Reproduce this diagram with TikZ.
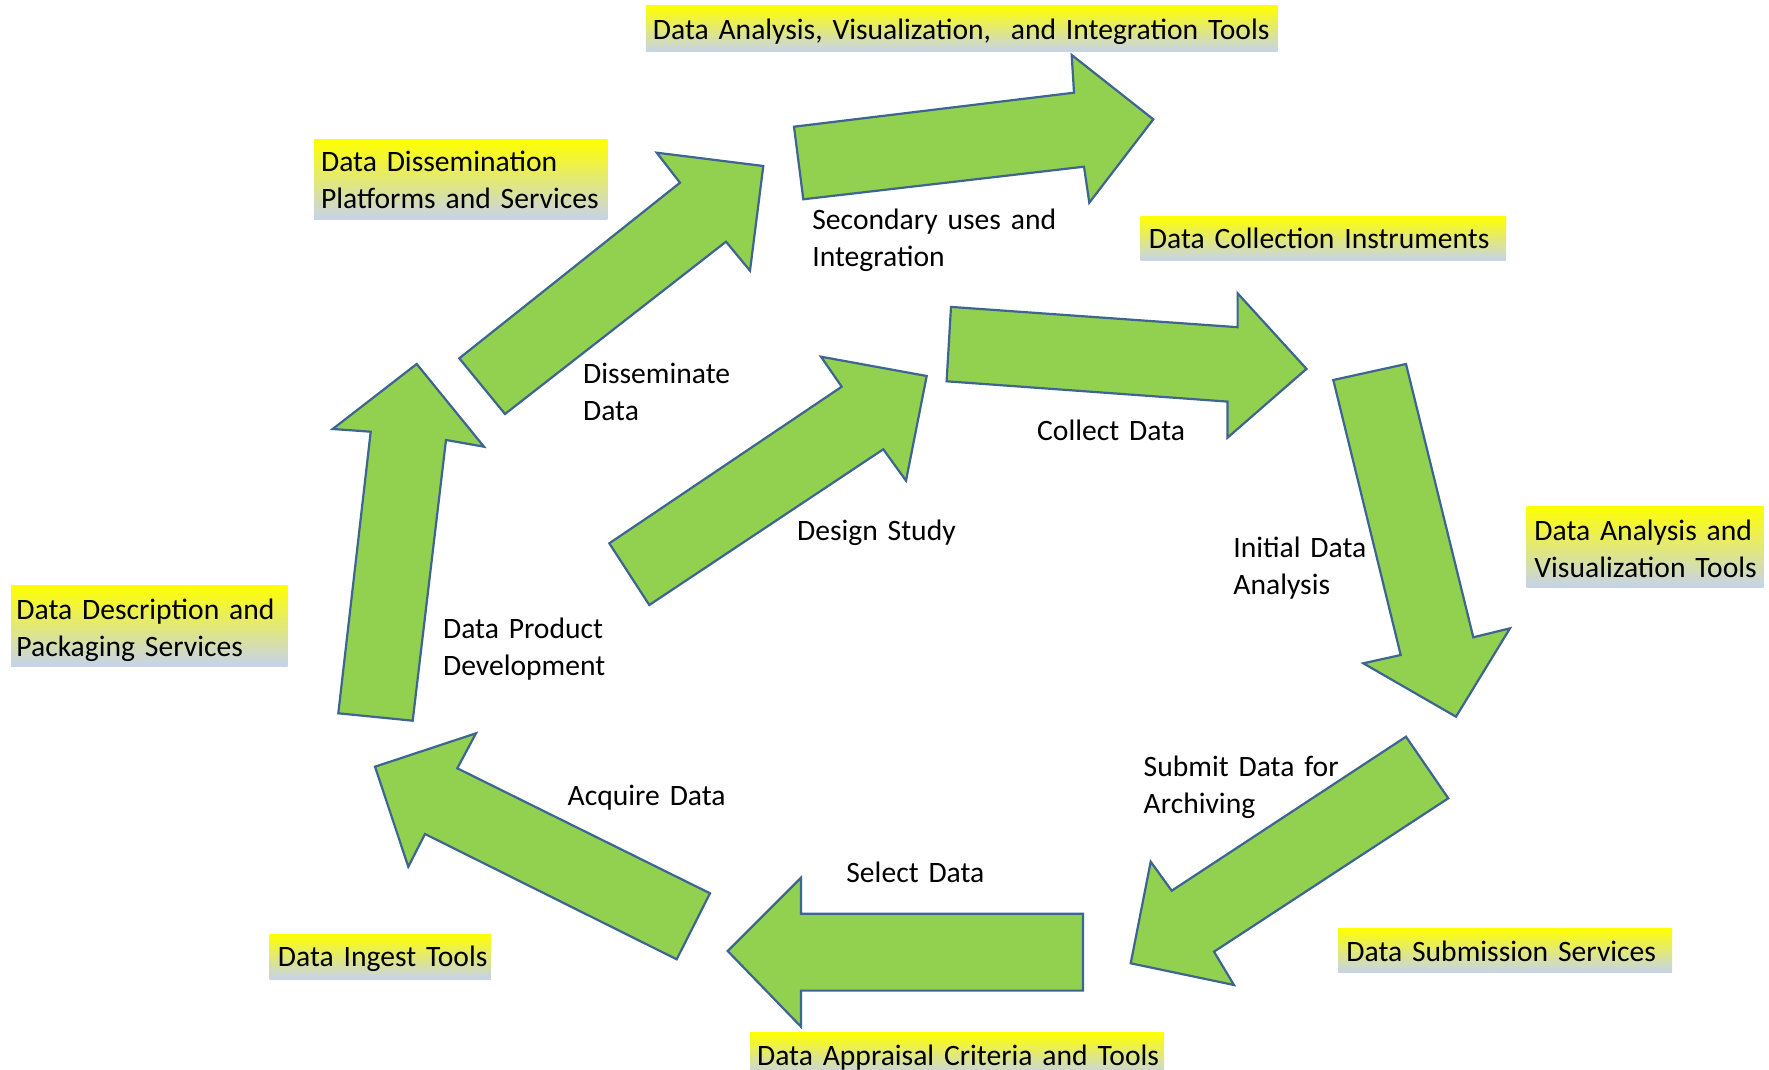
\documentclass[tikz,border=0pt]{standalone}
\usepackage{fontspec}
\setmainfont{Carlito}
\definecolor{arrowfill}{RGB}{146,208,80}
\definecolor{arrowline}{RGB}{62,100,145}
\definecolor{boxbottom}{RGB}{198,210,236}
\begin{document}
\begin{tikzpicture}[x=0.5pt,y=-0.5pt,
  blockarrow/.style={fill=arrowfill, draw=arrowline, line width=1.1pt, line join=miter},
  toolbox/.style={top color=yellow, bottom color=boxbottom},
  lbl/.style={anchor=base west, inner sep=0pt, text width=420pt, align=left,
              font=\fontsize{14.8}{18.5}\selectfont}]
\useasboundingbox (0,0) rectangle (1769,1070);

% ---- block arrows of the cycle ----
% design study
\draw[blockarrow] (609.3,543.3) -- (841.7,386.7) -- (821,356.7) -- (926.7,376)
  -- (906,480.7) -- (883.3,449.3) -- (649.3,605) -- cycle;
% collect data
\draw[blockarrow] (951,306.9) -- (1237.6,327.2) -- (1237.6,293.3) -- (1306.5,368.9)
  -- (1227.5,437.7) -- (1227.5,401.6) -- (946.6,381.3) -- cycle;
% initial data analysis
\draw[blockarrow] (1333.3,380) -- (1406,364) -- (1473.3,637.3) -- (1510,628.3)
  -- (1456,716.7) -- (1363.3,663.3) -- (1400.7,655) -- cycle;
% submit data for archiving
\draw[blockarrow] (1406,736.7) -- (1448.3,798.3) -- (1214,951.7) -- (1234,985)
  -- (1130.7,963.3) -- (1150.7,861.7) -- (1171.7,890.7) -- cycle;
% select data
\draw[blockarrow] (1083,913.8) -- (1083,990.6) -- (801,990.6) -- (801,1026.7)
  -- (727.7,951) -- (801,877.7) -- (801,913.8) -- cycle;
% acquire data
\draw[blockarrow] (710,893.3) -- (676.7,959.3) -- (425,834) -- (408.3,866.7)
  -- (375,766.7) -- (476,733.3) -- (457.3,768.3) -- cycle;
% data product development
\draw[blockarrow] (416.7,364) -- (484,446.7) -- (446,440) -- (412.7,720.7)
  -- (338.3,713.3) -- (370.7,431.7) -- (332.7,429) -- cycle;
% disseminate data
\draw[blockarrow] (459.3,358.3) -- (680,182.7) -- (656.7,152.7) -- (763.3,166)
  -- (750,270.7) -- (726,241.7) -- (505,414) -- cycle;
% secondary uses and integration
\draw[blockarrow] (794,126.7) -- (1074,92.7) -- (1071.7,55) -- (1153.3,119.3)
  -- (1089.3,202.7) -- (1084,166.7) -- (803.3,199.3) -- cycle;

% ---- stage labels ----
\node[lbl] (secondary)   at (812,229)    {Secondary uses and\\Integration};
\node[lbl] (disseminate) at (582.7,383.3) {Disseminate\\Data};
\node[lbl] (design)      at (796.7,540)  {Design Study};
\node[lbl] (collect)     at (1036.8,440) {Collect Data};
\node[lbl] (initial)     at (1233,557)   {Initial Data\\Analysis};
\node[lbl] (product)     at (442.7,638.3) {Data Product\\Development};
\node[lbl] (submit)      at (1143.3,776) {Submit Data for\\Archiving};
\node[lbl] (select)      at (846,882)    {Select Data};
\node[lbl] (acquire)     at (567.3,805)  {Acquire Data};

% ---- tool and service boxes ----
\shade[toolbox] (645.8,6) rectangle (1277.5,51.7);
\node[lbl] (integtools) at (652.5,39.3) {Data Analysis, Visualization,\ \ and Integration Tools};

\shade[toolbox] (314,140) rectangle (607.3,220);
\node[lbl] (platforms) at (320.7,171.7) {Data Dissemination\\Platforms and Services};

\shade[toolbox] (1140.6,216.6) rectangle (1506.2,260.6);
\node[lbl] (instruments) at (1148.5,249) {Data Collection Instruments};

\shade[toolbox] (1526.7,506) rectangle (1763.3,587.7);
\node[lbl] (vistools) at (1534,540.7) {Data Analysis and\\Visualization Tools};

\shade[toolbox] (11,585) rectangle (287.7,666);
\node[lbl] (packaging) at (16,619.3) {Data Description and\\Packaging Services};

\shade[toolbox] (1338,928.3) rectangle (1672,972.5);
\node[lbl] (submission) at (1346,961.5) {Data Submission Services};

\shade[toolbox] (269.6,934) rectangle (490.8,979.3);
\node[lbl] (ingest) at (277.5,966) {Data Ingest Tools};

\shade[toolbox] (750,1032.7) rectangle (1164,1075);
\node[lbl] (appraisal) at (756.7,1065) {Data Appraisal Criteria and Tools};
\end{tikzpicture}
\end{document}
